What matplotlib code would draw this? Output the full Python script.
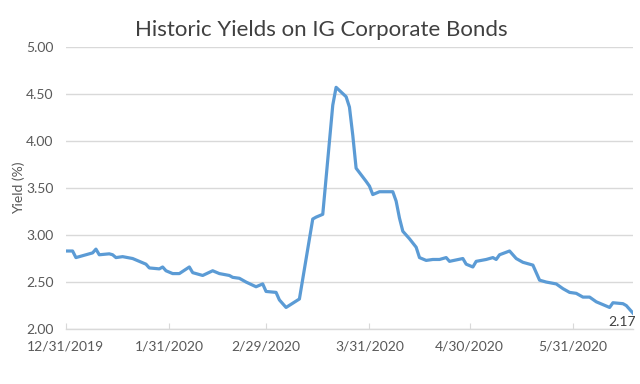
import matplotlib
matplotlib.use("Agg")
import matplotlib.pyplot as plt
import pandas as pd

# yields (%)
dates = [
    "2019-12-31", "2020-01-02", "2020-01-03", "2020-01-06", "2020-01-08",
    "2020-01-09", "2020-01-10", "2020-01-13", "2020-01-14", "2020-01-15",
    "2020-01-17", "2020-01-20", "2020-01-22", "2020-01-24", "2020-01-25",
    "2020-01-28", "2020-01-29", "2020-01-30", "2020-02-01", "2020-02-03",
    "2020-02-06", "2020-02-07", "2020-02-10", "2020-02-13", "2020-02-15",
    "2020-02-18", "2020-02-19", "2020-02-21", "2020-02-23", "2020-02-26",
    "2020-02-28", "2020-02-29", "2020-03-03", "2020-03-04", "2020-03-06",
    "2020-03-10", "2020-03-14", "2020-03-15", "2020-03-17", "2020-03-20",
    "2020-03-21", "2020-03-24", "2020-03-25", "2020-03-26", "2020-03-27",
    "2020-03-30", "2020-03-31", "2020-04-01", "2020-04-03", "2020-04-07",
    "2020-04-08", "2020-04-09", "2020-04-10", "2020-04-12", "2020-04-14",
    "2020-04-15", "2020-04-17", "2020-04-19", "2020-04-21", "2020-04-23",
    "2020-04-24", "2020-04-28", "2020-04-29", "2020-05-01", "2020-05-02",
    "2020-05-05", "2020-05-07", "2020-05-08", "2020-05-09", "2020-05-12",
    "2020-05-14", "2020-05-16", "2020-05-19", "2020-05-21", "2020-05-23",
    "2020-05-26", "2020-05-28", "2020-05-30", "2020-06-01", "2020-06-03",
    "2020-06-05", "2020-06-07", "2020-06-09", "2020-06-11", "2020-06-12",
    "2020-06-15", "2020-06-16", "2020-06-18",
]
yields = [
    2.83, 2.83, 2.76, 2.79, 2.81,
    2.85, 2.79, 2.80, 2.79, 2.76,
    2.77, 2.75, 2.72, 2.69, 2.65,
    2.64, 2.66, 2.62, 2.59, 2.59,
    2.66, 2.60, 2.57, 2.62, 2.59,
    2.57, 2.55, 2.54, 2.50, 2.45,
    2.48, 2.40, 2.39, 2.31, 2.23,
    2.32, 3.17, 3.19, 3.22, 4.38,
    4.57, 4.47, 4.36, 4.06, 3.71,
    3.57, 3.52, 3.43, 3.46, 3.46,
    3.36, 3.18, 3.04, 2.96, 2.87,
    2.76, 2.73, 2.74, 2.74, 2.76,
    2.72, 2.75, 2.69, 2.66, 2.72,
    2.74, 2.76, 2.74, 2.79, 2.83,
    2.75, 2.71, 2.68, 2.52, 2.50,
    2.48, 2.43, 2.39, 2.38, 2.34,
    2.34, 2.29, 2.26, 2.23, 2.28,
    2.27, 2.25, 2.17,
]
tick_dates = ["2019-12-31", "2020-01-31", "2020-02-29",
              "2020-03-31", "2020-04-30", "2020-05-31"]
tick_labels = ["12/31/2019", "1/31/2020", "2/29/2020",
               "3/31/2020", "4/30/2020", "5/31/2020"]
y_ticks = [2.0, 2.5, 3.0, 3.5, 4.0, 4.5, 5.0]

plt.rcParams["font.family"] = ["Lato", "DejaVu Sans"]

x = pd.to_datetime(dates)
grid_col = "#d9d9d9"
text_col = "#595959"

fig = plt.figure(figsize=(6.4, 3.84), dpi=100)
ax = fig.add_axes([0.103, 0.143, 0.886, 0.735])

ax.plot(x, yields, color="#5b9bd5", linewidth=2.3, zorder=3)

ax.set_xlim(pd.Timestamp("2019-12-31"), pd.Timestamp("2020-06-18"))
ax.set_ylim(2.0, 5.0)
ax.set_yticks(y_ticks)
ax.set_yticklabels([f"{v:.2f}" for v in y_ticks])
ax.set_xticks(pd.to_datetime(tick_dates))
ax.set_xticklabels(tick_labels)

ax.grid(axis="y", color=grid_col, linewidth=1)
ax.set_axisbelow(True)
for s in ["top", "right", "left"]:
    ax.spines[s].set_visible(False)
ax.spines["bottom"].set_color(grid_col)
ax.spines["bottom"].set_linewidth(1)

ax.tick_params(axis="y", length=0, pad=9, labelsize=10, labelcolor=text_col)
ax.tick_params(axis="x", direction="in", length=4, color=grid_col,
               pad=8, labelsize=10, labelcolor=text_col)

ax.set_ylabel("Yield (%)", fontsize=10, color=text_col, labelpad=1)
fig.text(0.502, 0.922, "Historic Yields on IG Corporate Bonds",
         ha="center", va="center", fontsize=16, color="#404040")

ax.annotate(f"{yields[-1]:.2f}", xy=(x[-1], yields[-1]), xytext=(2, -2),
            textcoords="offset points", ha="right", va="top",
            fontsize=10, color="#404040")

fig.savefig("out.png", dpi=100)
